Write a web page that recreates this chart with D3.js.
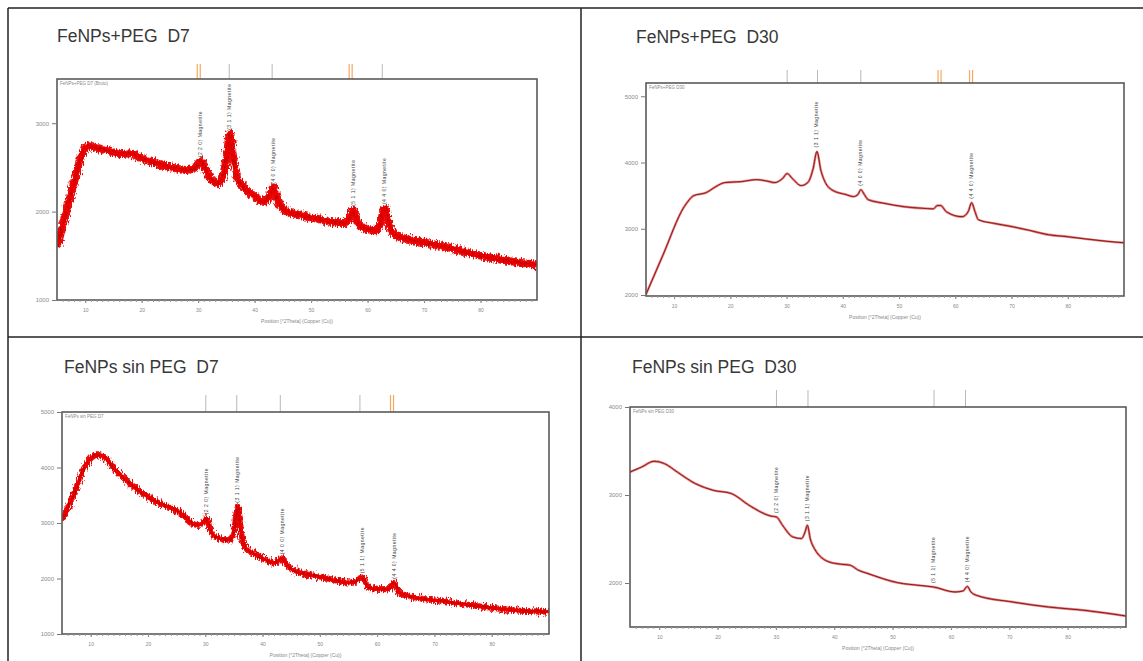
<!DOCTYPE html>
<html>
<head>
<meta charset="utf-8">
<script src="https://cdn.jsdelivr.net/npm/d3@7"></script>
<style>
  body { margin: 0; background: #fff; }
  svg { display: block; }
  text { font-family: 'Liberation Sans', Arial, sans-serif; }
</style>
</head>
<body>
<svg id="chart" width="1143" height="661"></svg>
<script>
// ---- data (2theta in degrees, counts) ----
const xTickValues = [10, 20, 30, 40, 50, 60, 70, 80];
const axisTitle = 'Position [°2Theta] (Copper (Cu))';

const titles = ['FeNPs+PEG  D7', 'FeNPs+PEG  D30', 'FeNPs sin PEG  D7', 'FeNPs sin PEG  D30'];
const headers = ['FeNPs+PEG D7 (Bruto)', 'FeNPs+PEG D30', 'FeNPs sin PEG D7', 'FeNPs sin PEG D30'];

const pegD7Theta = [5, 7, 8.5, 9.5, 10.5, 12, 14, 16, 18, 20, 22, 24, 26, 28, 29.5, 30.4, 31.3, 32.5, 33.5, 34.5, 35.2, 35.6, 36.2, 37, 38.5, 40, 41.5, 42.6, 43.3, 44, 45.5, 48, 51, 54, 56, 57, 57.5, 58.2, 60, 61.5, 62.4, 63, 63.8, 65, 67, 70, 74, 78, 81, 85, 90];
const pegD7Counts = [1600, 2080, 2450, 2660, 2740, 2720, 2690, 2650, 2660, 2600, 2560, 2520, 2490, 2470, 2500, 2570, 2480, 2350, 2320, 2420, 2700, 2880, 2620, 2370, 2250, 2170, 2110, 2170, 2270, 2140, 2010, 1960, 1920, 1880, 1870, 1960, 2020, 1880, 1800, 1790, 1900, 2040, 1850, 1730, 1690, 1650, 1600, 1530, 1490, 1440, 1400];

const pegD30Theta = [5, 8, 11.8, 13.5, 15.7, 17.5, 19, 22, 24.7, 26.5, 27.9, 29.3, 30.1, 31, 32.6, 33.8, 34.7, 35.4, 36.1, 37, 38, 40.6, 41.9, 42.7, 43.2, 43.8, 44.5, 47, 50.9, 54, 56.1, 56.8, 57.4, 58.4, 61.2, 62.3, 62.9, 63.5, 64.1, 67, 70.2, 73, 76.6, 80, 83, 87, 90];
const pegD30Counts = [2010, 2600, 3333, 3500, 3545, 3640, 3697, 3712, 3742, 3720, 3697, 3760, 3833, 3760, 3651, 3700, 3900, 4167, 3880, 3680, 3590, 3515, 3485, 3520, 3590, 3520, 3440, 3390, 3333, 3310, 3300, 3350, 3350, 3258, 3182, 3260, 3394, 3260, 3136, 3080, 3030, 2980, 2909, 2880, 2848, 2810, 2788];

const sinD7Theta = [5, 7.1, 9, 10.2, 11, 12.3, 14.3, 17.5, 21.4, 25.3, 28.6, 29.6, 30.2, 30.8, 31.7, 34.3, 35.1, 35.7, 36.3, 36.9, 39.5, 42.1, 43.4, 44.2, 45.3, 49.9, 55.7, 57.5, 58.2, 59, 61.9, 63, 63.8, 64.8, 72, 78.4, 84.9, 90];
const sinD7Counts = [3054, 3535, 4015, 4180, 4225, 4195, 3955, 3654, 3384, 3204, 2964, 3000, 3084, 2900, 2753, 2694, 2900, 3294, 2800, 2573, 2393, 2285, 2364, 2250, 2153, 2033, 1925, 2021, 1880, 1823, 1805, 1925, 1760, 1703, 1583, 1492, 1420, 1402];

const sinD30Theta = [5, 7, 9.1, 10.9, 13.1, 16.2, 19.3, 22.4, 25.4, 29.1, 30.1, 31.2, 32.9, 34.4, 35, 35.4, 35.9, 36.6, 39.1, 41, 42.8, 44, 45.8, 50.8, 55, 57, 60.7, 62.1, 62.8, 63.4, 64.4, 70.6, 76.7, 82.8, 90];
const sinD30Counts = [3261, 3318, 3383, 3357, 3261, 3130, 3053, 3016, 2883, 2761, 2750, 2650, 2523, 2505, 2580, 2656, 2500, 2391, 2239, 2215, 2201, 2150, 2107, 2005, 1970, 1955, 1898, 1910, 1962, 1900, 1860, 1784, 1727, 1690, 1625];

// y tick labels of each pattern
const pegD7YTicks = [1000, 2000, 3000];
const pegD30YTicks = [2000, 3000, 4000, 5000];
const sinD7YTicks = [1000, 2000, 3000, 4000, 5000];
const sinD30YTicks = [2000, 3000, 4000];

// reference pattern sticks above each plot (true = matched / orange)
const pegD7Ref = [30.1, 35.5, 43.1, 57.0, 62.6];
const pegD7RefMatch = [true, false, false, true, false];
const pegD30Ref = [30.1, 35.5, 43.2, 57.2, 62.8];
const pegD30RefMatch = [false, false, false, true, true];
const sinD7Ref = [30.1, 35.5, 43.1, 57.0, 62.6];
const sinD7RefMatch = [false, false, false, false, true];
const sinD30Ref = [30.1, 35.5, 57.1, 62.5];
const sinD30RefMatch = [false, false, false, false];

// labelled peaks
const pegD7Peaks = [30.4, 35.6, 43.3, 57.5, 63.0];
const pegD7PeakNames = ['(2 2 0) Magnetite', '(3 1 1) Magnetite', '(4 0 0) Magnetite', '(5 1 1) Magnetite', '(4 4 0) Magnetite'];
const pegD30Peaks = [35.4, 43.2, 62.9];
const pegD30PeakNames = ['(3 1 1) Magnetite', '(4 0 0) Magnetite', '(4 4 0) Magnetite'];
const sinD7Peaks = [30.2, 35.7, 43.4, 57.5, 63.0];
const sinD7PeakNames = ['(2 2 0) Magnetite', '(3 1 1) Magnetite', '(4 0 0) Magnetite', '(5 1 1) Magnetite', '(4 4 0) Magnetite'];
const sinD30Peaks = [30.1, 35.4, 57.0, 62.8];
const sinD30PeakNames = ['(2 2 0) Magnetite', '(3 1 1) Magnetite', '(5 1 1) Magnetite', '(4 4 0) Magnetite'];

// ---- layout of the four panels ----
const panels = [
  { title: titles[0], header: headers[0], tx: 57, ty: 42, x0: 57, x1: 537, y0: 79, y1: 300, stickTop: 64,
    yDomain: [1000, 3500], yTicks: pegD7YTicks, theta: pegD7Theta, counts: pegD7Counts,
    ref: pegD7Ref, refMatch: pegD7RefMatch, peaks: pegD7Peaks, peakNames: pegD7PeakNames, noisy: true, band: 8 },
  { title: titles[1], header: headers[1], tx: 636, ty: 43, x0: 646, x1: 1124, y0: 83, y1: 296, stickTop: 70,
    yDomain: [1985, 5200], yTicks: pegD30YTicks, theta: pegD30Theta, counts: pegD30Counts,
    ref: pegD30Ref, refMatch: pegD30RefMatch, peaks: pegD30Peaks, peakNames: pegD30PeakNames, noisy: false },
  { title: titles[2], header: headers[2], tx: 64, ty: 373, x0: 62, x1: 549, y0: 412, y1: 634, stickTop: 395,
    yDomain: [1000, 5000], yTicks: sinD7YTicks, theta: sinD7Theta, counts: sinD7Counts,
    ref: sinD7Ref, refMatch: sinD7RefMatch, peaks: sinD7Peaks, peakNames: sinD7PeakNames, noisy: true, band: 6 },
  { title: titles[3], header: headers[3], tx: 632, ty: 373, x0: 630, x1: 1126, y0: 407, y1: 627, stickTop: 390,
    yDomain: [1500, 4000], yTicks: sinD30YTicks, theta: sinD30Theta, counts: sinD30Counts,
    ref: sinD30Ref, refMatch: sinD30RefMatch, peaks: sinD30Peaks, peakNames: sinD30PeakNames, noisy: false }
];

const svg = d3.select('#chart');

// noise texture for the raw (D7) scans
const defs = svg.append('defs');
const rough = defs.append('filter').attr('id', 'rough')
  .attr('x', '-5%').attr('y', '-20%').attr('width', '110%').attr('height', '140%');
rough.append('feTurbulence').attr('type', 'fractalNoise')
  .attr('baseFrequency', '1.2 0.25').attr('numOctaves', 2).attr('seed', 4);
rough.append('feDisplacementMap').attr('in', 'SourceGraphic').attr('scale', 8)
  .attr('xChannelSelector', 'R').attr('yChannelSelector', 'G');

// outer grid of the figure
const border = svg.append('g').attr('stroke', '#222').attr('stroke-width', 1.5);
border.append('line').attr('x1', 8).attr('x2', 1143).attr('y1', 8).attr('y2', 8);
border.append('line').attr('x1', 8).attr('x2', 1143).attr('y1', 337).attr('y2', 337);
border.append('line').attr('x1', 8).attr('x2', 8).attr('y1', 8).attr('y2', 661);
border.append('line').attr('x1', 581).attr('x2', 581).attr('y1', 8).attr('y2', 661);

panels.forEach((p, i) => {
  const x = d3.scaleLinear().domain([5, 90]).range([p.x0, p.x1]);
  const y = d3.scaleLinear().domain(p.yDomain).range([p.y1, p.y0]);
  const g = svg.append('g');

  // panel title
  g.append('text')
    .attr('x', p.tx).attr('y', p.ty)
    .style('white-space', 'pre')
    .attr('font-size', 17.5).attr('fill', '#383838')
    .text(p.title);

  // reference sticks above the frame
  p.ref.forEach((t, k) => {
    if (p.refMatch[k]) {
      [-1.5, 1.5].forEach(dx => {
        g.append('line')
          .attr('x1', x(t) + dx).attr('x2', x(t) + dx)
          .attr('y1', p.stickTop).attr('y2', p.y0)
          .attr('stroke', '#f4a860').attr('stroke-width', 1.2);
      });
    } else {
      g.append('line')
        .attr('x1', x(t)).attr('x2', x(t))
        .attr('y1', p.stickTop).attr('y2', p.y0)
        .attr('stroke', '#b8b8b8').attr('stroke-width', 1);
    }
  });

  // clip for the scan
  defs.append('clipPath').attr('id', 'clip' + i)
    .append('rect').attr('x', p.x0).attr('y', p.y0)
    .attr('width', p.x1 - p.x0).attr('height', p.y1 - p.y0);

  const pts = p.theta.map((t, k) => [t, p.counts[k]]);
  const line = d3.line()
    .x(d => x(d[0]))
    .y(d => y(d[1]))
    .curve(d3.curveMonotoneX);

  const scan = g.append('g').attr('clip-path', `url(#clip${i})`);
  if (p.noisy) {
    scan.append('path').datum(pts)
      .attr('d', line).attr('fill', 'none')
      .attr('stroke', '#e80a0a').attr('stroke-width', p.band)
      .attr('stroke-linejoin', 'round')
      .attr('filter', 'url(#rough)');
    scan.append('path').datum(pts)
      .attr('d', line).attr('fill', 'none')
      .attr('stroke', '#ee0000').attr('stroke-width', p.band * 0.55);
    scan.append('path').datum(pts)
      .attr('d', line).attr('fill', 'none')
      .attr('stroke', '#7a0000').attr('stroke-width', 1).attr('opacity', 0.5)
      .attr('filter', 'url(#rough)');
  } else {
    scan.append('path').datum(pts)
      .attr('d', line).attr('fill', 'none')
      .attr('stroke', '#f07a7a').attr('stroke-width', 2.4);
    scan.append('path').datum(pts)
      .attr('d', line).attr('fill', 'none')
      .attr('stroke', '#7a2020').attr('stroke-width', 1);
  }

  // plot frame
  g.append('rect')
    .attr('x', p.x0).attr('y', p.y0)
    .attr('width', p.x1 - p.x0).attr('height', p.y1 - p.y0)
    .attr('fill', 'none').attr('stroke', '#5a5a5a').attr('stroke-width', 1.6);

  // header inside frame
  g.append('text')
    .attr('x', p.x0 + 3).attr('y', p.y0 + 6)
    .attr('font-size', 4.5).attr('fill', '#888')
    .text(p.header);

  // x axis
  const xAxis = g.append('g').attr('transform', `translate(0,${p.y1})`)
    .call(d3.axisBottom(x).tickValues(xTickValues).tickSize(3).tickPadding(5).tickFormat(d3.format('d')));
  xAxis.select('.domain').remove();
  xAxis.selectAll('line').attr('stroke', '#777');
  xAxis.selectAll('text').attr('font-size', 5).attr('fill', '#888');
  const minor = g.append('g').attr('transform', `translate(0,${p.y1})`)
    .call(d3.axisBottom(x).tickValues(d3.range(6, 90, 1)).tickSize(2).tickFormat(''));
  minor.select('.domain').remove();
  minor.selectAll('line').attr('stroke', '#999');

  g.append('text')
    .attr('x', (p.x0 + p.x1) / 2).attr('y', p.y1 + 23)
    .attr('text-anchor', 'middle')
    .attr('font-size', 5).attr('fill', '#888')
    .text(axisTitle);

  // y axis
  const yAxis = g.append('g').attr('transform', `translate(${p.x0},0)`)
    .call(d3.axisLeft(y).tickValues(p.yTicks).tickSize(5).tickPadding(3).tickFormat(d3.format('d')));
  yAxis.select('.domain').remove();
  yAxis.selectAll('line').attr('stroke', '#777');
  yAxis.selectAll('text').attr('font-size', 6).attr('fill', '#8a8a8a');

  // vertical peak labels
  p.peaks.forEach((t, k) => {
    const near = pts.filter(d => Math.abs(d[0] - t) < 0.8);
    const top = y(d3.max(near, d => d[1]));
    g.append('text')
      .attr('transform', `translate(${x(t) + 1.5},${top - 4}) rotate(-90)`)
      .attr('font-size', 5).attr('letter-spacing', 0.5).attr('fill', '#444')
      .text(p.peakNames[k]);
  });
});
</script>
</body>
</html>
